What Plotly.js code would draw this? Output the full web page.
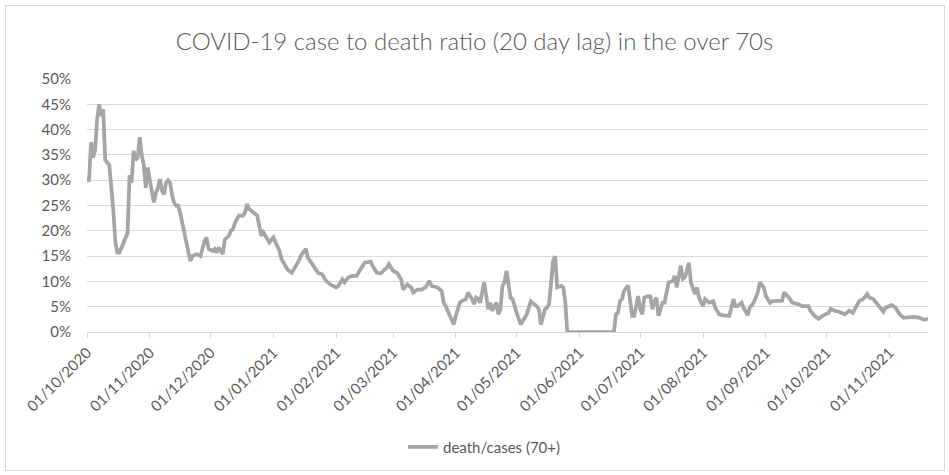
<!DOCTYPE html>
<html><head><meta charset="utf-8">
<script src="https://cdn.plot.ly/plotly-3.0.1.min.js"></script>
<style>
html,body{margin:0;padding:0;background:#fff;}
#wrap{position:relative;width:949px;height:475px;}
#chart{position:absolute;left:0;top:0;width:949px;height:475px;}
#frame{position:absolute;left:5px;top:5px;width:938px;height:464px;border:1px solid #d9d9d9;pointer-events:none;}
</style></head><body>
<div id="wrap"><div id="chart"></div><div id="frame"></div></div>
<script>
const chartTitle = "COVID-19 case to death ratio (20 day lag) in the over 70s";
const seriesName = "death/cases (70+)";

const dates = [
"2020-10-01","2020-10-02","2020-10-03","2020-10-04","2020-10-05","2020-10-06","2020-10-07","2020-10-08","2020-10-09","2020-10-10",
"2020-10-12","2020-10-13","2020-10-14","2020-10-15","2020-10-16","2020-10-17","2020-10-19","2020-10-21","2020-10-22","2020-10-23",
"2020-10-24","2020-10-25","2020-10-26","2020-10-27","2020-10-28","2020-10-29","2020-10-30","2020-10-31","2020-11-01","2020-11-02",
"2020-11-03","2020-11-04","2020-11-05","2020-11-06","2020-11-07","2020-11-08","2020-11-09","2020-11-10","2020-11-11","2020-11-12",
"2020-11-13","2020-11-14","2020-11-15","2020-11-16","2020-11-17","2020-11-18","2020-11-19","2020-11-20","2020-11-21","2020-11-22",
"2020-11-24","2020-11-26","2020-11-27","2020-11-28","2020-11-29","2020-11-30","2020-12-02","2020-12-03","2020-12-04","2020-12-05",
"2020-12-07","2020-12-08","2020-12-10","2020-12-11","2020-12-12","2020-12-13","2020-12-15","2020-12-17","2020-12-18","2020-12-19",
"2020-12-20","2020-12-22","2020-12-23","2020-12-24","2020-12-25","2020-12-26","2020-12-27","2020-12-29","2020-12-30","2021-01-01",
"2021-01-03","2021-01-04","2021-01-05","2021-01-06","2021-01-07","2021-01-08","2021-01-10","2021-01-12","2021-01-13","2021-01-15",
"2021-01-17","2021-01-18","2021-01-20","2021-01-22","2021-01-23","2021-01-25","2021-01-27","2021-01-29","2021-02-01","2021-02-02",
"2021-02-04","2021-02-05","2021-02-07","2021-02-09","2021-02-11","2021-02-13","2021-02-15","2021-02-18","2021-02-19","2021-02-21",
"2021-02-23","2021-02-25","2021-02-26","2021-02-27","2021-03-01","2021-03-03","2021-03-05","2021-03-06","2021-03-08","2021-03-10",
"2021-03-11","2021-03-13","2021-03-15","2021-03-17","2021-03-19","2021-03-20","2021-03-23","2021-03-25","2021-03-26","2021-03-27",
"2021-03-29","2021-03-30","2021-03-31","2021-04-01","2021-04-03","2021-04-04","2021-04-06","2021-04-07","2021-04-09","2021-04-10",
"2021-04-11","2021-04-12","2021-04-13","2021-04-15","2021-04-16","2021-04-17","2021-04-18","2021-04-19","2021-04-21","2021-04-22",
"2021-04-23","2021-04-24","2021-04-25","2021-04-26","2021-04-28","2021-04-29","2021-05-01","2021-05-02","2021-05-03","2021-05-05",
"2021-05-06","2021-05-08","2021-05-09","2021-05-11","2021-05-12","2021-05-13","2021-05-15","2021-05-16","2021-05-17","2021-05-18",
"2021-05-19","2021-05-20","2021-05-21","2021-05-23","2021-05-24","2021-05-25","2021-05-26","2021-06-18","2021-06-19","2021-06-20",
"2021-06-21","2021-06-22","2021-06-23","2021-06-25","2021-06-26","2021-06-27","2021-06-28","2021-06-30","2021-07-01","2021-07-02",
"2021-07-03","2021-07-05","2021-07-06","2021-07-07","2021-07-08","2021-07-09","2021-07-10","2021-07-12","2021-07-13","2021-07-14",
"2021-07-15","2021-07-17","2021-07-18","2021-07-19","2021-07-21","2021-07-22","2021-07-23","2021-07-24","2021-07-25","2021-07-26",
"2021-07-28","2021-07-29","2021-07-30","2021-08-01","2021-08-02","2021-08-04","2021-08-06","2021-08-07","2021-08-09","2021-08-11",
"2021-08-14","2021-08-16","2021-08-17","2021-08-18","2021-08-20","2021-08-21","2021-08-23","2021-08-24","2021-08-26","2021-08-27",
"2021-08-28","2021-08-29","2021-08-31","2021-09-01","2021-09-03","2021-09-04","2021-09-07","2021-09-09","2021-09-10","2021-09-12",
"2021-09-14","2021-09-17","2021-09-19","2021-09-22","2021-09-23","2021-09-25","2021-09-27","2021-09-29","2021-10-02","2021-10-03",
"2021-10-05","2021-10-07","2021-10-10","2021-10-12","2021-10-14","2021-10-16","2021-10-17","2021-10-19","2021-10-21","2021-10-22",
"2021-10-24","2021-10-26","2021-10-29","2021-10-30","2021-11-02","2021-11-04","2021-11-06","2021-11-08","2021-11-11","2021-11-13",
"2021-11-16","2021-11-18","2021-11-20"
];

const ratioPct = [
29.9,30,37.5,34.5,36,42,45,42.7,44,34,
33,29,24,17.7,15.7,15.7,17.7,19.5,31,29.5,
35.8,34,34.5,38.5,35,33,28.5,32.5,30,28,
25.6,27.5,28.5,30.2,28,27.2,29.5,30,29.5,27,
25.5,25,25,23.5,21.5,20.3,18,15.5,14,15,
15.4,15,16.7,18,18.7,16.4,16,16.4,15.7,16.7,
15.4,18.3,19,20,20.3,21.6,23,23,23.6,25.3,
24.3,23.6,23.3,23,21,19,19.7,18.3,17.7,18.7,
16.7,16,14.4,13.8,13,12.3,11.7,13,13.7,15.4,
16.4,14.7,13.4,12.1,11.7,11.4,10.1,9.4,8.8,9.1,
10.4,9.8,10.8,11.1,11.1,12.4,13.7,13.9,13,11.7,
11.6,12.4,12.7,13.4,12.1,11.7,10.4,8.4,9.4,8.8,
7.8,8.4,8.4,8.8,10.1,9.1,8.8,8.1,5.8,5.1,
3.5,2.5,1.5,3.2,5.8,6.1,6.5,7.8,6.5,5.5,
6.8,6.5,5.8,9.8,6.5,4.5,5.8,4.2,5.8,3.5,
4.5,9.1,9.8,12.1,6.8,6.5,3.8,2.8,1.5,2.8,
3.5,6.1,5.8,5.1,4.5,1.5,4.5,4.8,5.5,9.8,
14,15,8.8,9.1,8.8,6,0,0,3.5,3.8,
6.1,6.5,8.1,9.2,6.5,3.2,3.2,7.1,4.5,3.5,
6.8,7.1,7,4.5,6.1,6.8,3.2,5.8,5.8,7.8,
9.8,10.1,11.1,8.8,13.1,10.5,10.8,12,13.7,9.8,
7.5,8.8,6.8,5.1,6.5,5.8,6.1,4.8,3.5,3.3,
3.2,6.5,5.1,5.1,5.8,4.8,3.3,4.8,5.8,6.8,
7.8,9.8,8.8,7.1,5.8,6.1,6.1,6.2,7.8,7,
5.8,5.5,5.1,5.1,4.2,3.2,2.6,3.2,3.8,4.6,
4.2,4,3.5,4.2,3.8,5.5,6.1,6.5,7.5,6.8,
6.5,5.5,4,4.8,5.3,4.8,3.5,2.8,3,3,
2.8,2.4,2.6
];

const yTickVals = [0,5,10,15,20,25,30,35,40,45,50];

const textGrey = "#595959";
const fontFam = "Lato, 'Open Sans', sans-serif";

const trace = {
  x: dates,
  y: ratioPct,
  type: "scatter",
  mode: "lines",
  name: seriesName,
  line: {color: "#a5a5a5", width: 3.75},
  cliponaxis: false,
  hoverinfo: "x+y"
};

const layout = {
  width: 949,
  height: 475,
  margin: {l: 87, r: 21, t: 79, b: 143},
  paper_bgcolor: "#ffffff",
  plot_bgcolor: "#ffffff",
  font: {family: fontFam, color: textGrey, size: 15},
  title: {
    text: chartTitle,
    font: {family: fontFam, size: 24, color: textGrey, weight: 300},
    x: 0.5, xref: "container",
    y: 1 - 42/475, yref: "container", yanchor: "middle"
  },
  xaxis: {
    type: "date",
    range: [dates[0], dates[dates.length - 1]],
    tick0: "2020-10-01",
    dtick: "M1",
    tickformat: "%d/%m/%Y",
    tickangle: -45,
    showgrid: false,
    zeroline: false,
    showline: true,
    linecolor: "#d9d9d9",
    linewidth: 1,
    ticks: "outside",
    ticklen: 5,
    tickcolor: "#d9d9d9",
    tickfont: {family: fontFam, size: 15, color: textGrey}
  },
  yaxis: {
    range: [0, 50],
    tickvals: yTickVals,
    ticktext: yTickVals.map(v => v + "%"),
    showgrid: true,
    gridcolor: "#d9d9d9",
    gridwidth: 1,
    zeroline: false,
    showline: false,
    ticks: "",
    ticklabelstandoff: 15,
    tickfont: {family: fontFam, size: 15, color: textGrey}
  },
  showlegend: true,
  legend: {
    orientation: "h",
    x: 484/949, xref: "container", xanchor: "center",
    y: 1 - 447/475, yref: "container", yanchor: "middle",
    font: {family: fontFam, size: 15, color: textGrey},
    bgcolor: "rgba(0,0,0,0)"
  }
};

Plotly.newPlot("chart", [trace], layout, {displayModeBar: false, staticPlot: true});
</script>
</body></html>
